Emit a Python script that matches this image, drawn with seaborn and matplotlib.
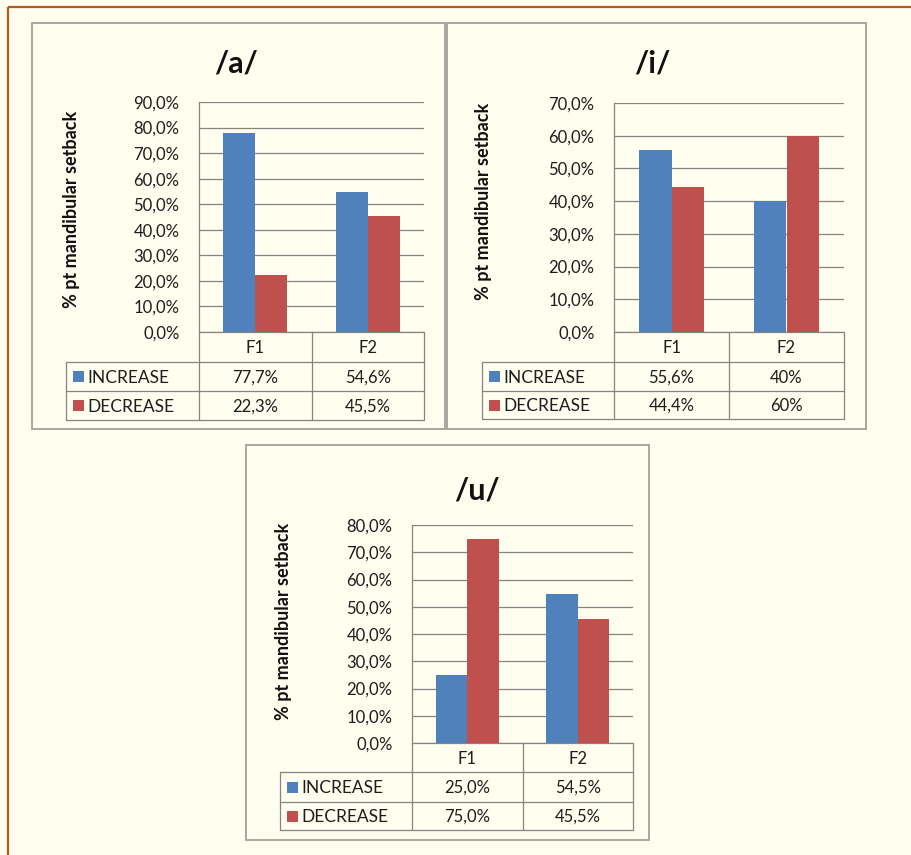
import matplotlib
matplotlib.use("Agg")
import matplotlib.pyplot as plt
import seaborn as sns
import pandas as pd
from matplotlib.patches import Rectangle

# ---- data -------------------------------------------------------------
sounds = ["/a/", "/i/", "/u/"]
formants = ["F1", "F2"]
series = ["INCREASE", "DECREASE"]

a_increase = [77.7, 54.6]
a_decrease = [22.3, 45.5]
i_increase = [55.6, 40.0]
i_decrease = [44.4, 60.0]
u_increase = [25.0, 54.5]
u_decrease = [75.0, 45.5]

y_max = {"/a/": 90, "/i/": 70, "/u/": 80}
# decimals shown in the data table, per formant column
table_decimals = {"/a/": [1, 1], "/i/": [1, 0], "/u/": [1, 1]}

values = {
    "/a/": {"INCREASE": a_increase, "DECREASE": a_decrease},
    "/i/": {"INCREASE": i_increase, "DECREASE": i_decrease},
    "/u/": {"INCREASE": u_increase, "DECREASE": u_decrease},
}

# ---- style ------------------------------------------------------------
W, H = 911, 855
BG = "#FFFEEF"
BLUE = "#4F81BD"
RED = "#C0504D"
GRID = "#85847F"
BOX = "#A3A29A"
TXT = "#1C1C1C"

sns.set_theme(style="white")
plt.rcParams["font.family"] = ["Lato", "DejaVu Sans"]

# panel layout in pixels: outer box, plot area, table left edge, table row lines
layout = {
    "/a/": dict(box=(32, 23, 445, 429), plot=(199, 102, 424, 332), tleft=66,
                rows=(332, 362, 391, 420), title=(236, 63), ylab=(72, 209)),
    "/i/": dict(box=(447, 23, 866, 429), plot=(614, 103, 844, 332), tleft=482,
                rows=(332, 362, 391, 419), title=(652, 63), ylab=(483, 201)),
    "/u/": dict(box=(246, 445, 649, 840), plot=(412, 525, 633, 743), tleft=280,
                rows=(743, 772, 802, 830), title=(477, 490), ylab=(283, 621)),
}


def pct(v, d):
    s = f"{v:.{d}f}%"
    return s.replace(".", ",")


fig = plt.figure(figsize=(W / 100, H / 100), dpi=100)
fig.patch.set_facecolor(BG)

# full-figure layer in pixel coordinates for frames and the data tables
bg = fig.add_axes([0, 0, 1, 1], zorder=0)
bg.set_xlim(0, W)
bg.set_ylim(H, 0)
bg.axis("off")

# page frame
bg.plot([8, W], [7, 7], color="#B85A1E", lw=1.6, solid_capstyle="butt")
bg.plot([8, 8], [7, H], color="#B85A1E", lw=1.6, solid_capstyle="butt")

for sound in sounds:
    L = layout[sound]
    bx0, by0, bx1, by1 = L["box"]
    bg.add_patch(Rectangle((bx0, by0), bx1 - bx0, by1 - by0, fill=False,
                           edgecolor=BOX, lw=1.3))

    px0, pt, px1, pb = L["plot"]
    ax = fig.add_axes([px0 / W, 1 - pb / H, (px1 - px0) / W, (pb - pt) / H],
                      zorder=1)

    df = pd.DataFrame({
        "formant": formants * 2,
        "series": [s for s in series for _ in formants],
        "value": values[sound]["INCREASE"] + values[sound]["DECREASE"],
    })
    sns.barplot(data=df, x="formant", y="value", hue="series",
                hue_order=series, order=formants, palette=[BLUE, RED],
                width=0.57, saturation=1, linewidth=0, legend=False, ax=ax)

    ymax = y_max[sound]
    ax.set_ylim(0, ymax)
    ax.set_xlim(-0.5, 1.5)
    ticks = list(range(0, ymax + 1, 10))
    ax.set_yticks(ticks)
    ax.set_yticklabels([pct(t, 1) for t in ticks], fontsize=12, color=TXT)
    ax.set_xticks([])
    ax.set_xlabel("")
    ax.set_ylabel("")
    ax.tick_params(axis="y", length=0, pad=14)
    ax.set_facecolor("none")
    ax.grid(axis="y", color=GRID, lw=0.9)
    ax.set_axisbelow(True)
    for side in ("top", "right", "bottom"):
        ax.spines[side].set_visible(False)
    ax.spines["left"].set_color(GRID)
    ax.spines["left"].set_linewidth(0.9)

    # title and axis label
    tx, ty = L["title"]
    bg.text(tx, ty, sound, fontsize=22, fontweight="bold", ha="center",
            va="center", color="#111111")
    lx, ly = L["ylab"]
    bg.text(lx, ly, "% pt mandibular setback", rotation=90, fontsize=13,
            fontweight="bold", ha="center", va="center", color="#111111")

    # data table under the plot
    r0, r1, r2, r3 = L["rows"]
    tl = L["tleft"]
    mid = (px0 + px1) / 2
    lc = dict(color=GRID, lw=0.9)
    bg.plot([px0, px1], [r0, r0], **lc)
    for y in (r1, r2, r3):
        bg.plot([tl, px1], [y, y], **lc)
    for x in (px0, mid, px1):
        bg.plot([x, x], [r0, r3], **lc)
    bg.plot([tl, tl], [r1, r3], **lc)

    centers = [px0 + (px1 - px0) * (i + 0.5) / 2 for i in range(len(formants))]
    for cx, f in zip(centers, formants):
        bg.text(cx, (r0 + r1) / 2 + 1, f, fontsize=12, ha="center",
                va="center", color=TXT)
    for (ya, yb), s, col in zip([(r1, r2), (r2, r3)], series, [BLUE, RED]):
        yc = (ya + yb) / 2
        bg.add_patch(Rectangle((tl + 7, yc - 5.5), 11, 11, color=col, lw=0))
        bg.text(tl + 21, yc + 1, s, fontsize=12.5, ha="left", va="center",
                color=TXT)
        for i, cx in enumerate(centers):
            v = values[sound][s][i]
            bg.text(cx, yc + 1, pct(v, table_decimals[sound][i]), fontsize=12,
                    ha="center", va="center", color=TXT)

fig.savefig("out.png", dpi=100, facecolor=BG)
